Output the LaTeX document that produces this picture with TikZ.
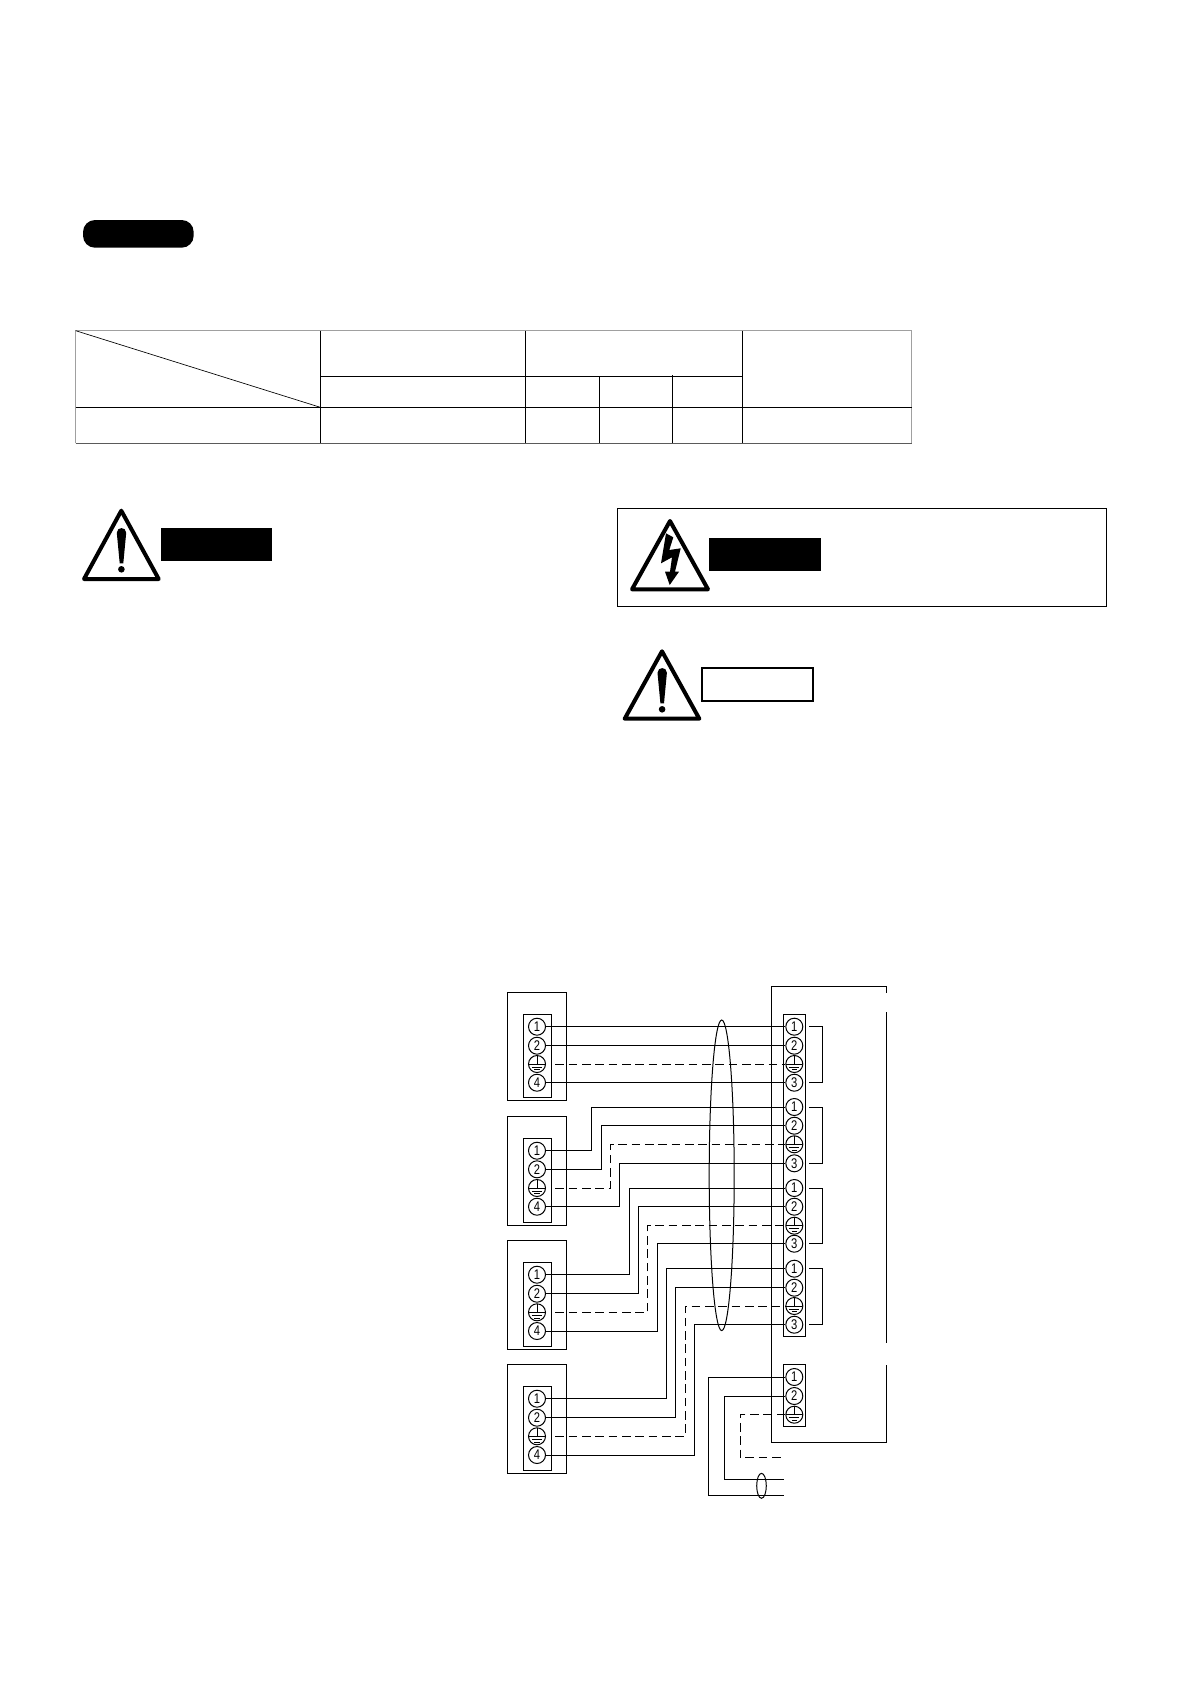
\documentclass[tikz,border=0pt]{standalone}
\usepackage{fontspec}
\setsansfont[FakeStretch=0.8]{Liberation Sans}

\tikzset{
  wire/.style={line width=0.75pt},
  earthwire/.style={line width=0.75pt,dash pattern=on 6.5pt off 3.5pt},
  term/.style={circle,draw,line width=0.75pt,minimum size=12.75pt,inner sep=0pt,font=\sffamily\fontsize{10.5}{10.5}\selectfont},
  earthterm/.style={term,path picture={
    \draw[line width=0.6pt] (path picture bounding box.north) -- (path picture bounding box.center);
    \draw[line width=0.6pt] ([xshift=-6.2pt]path picture bounding box.center) -- ([xshift=6.2pt]path picture bounding box.center);
    \draw[line width=0.6pt] ([xshift=-3.8pt,yshift=-2.2pt]path picture bounding box.center) -- ([xshift=3.8pt,yshift=-2.2pt]path picture bounding box.center);
    \draw[line width=0.6pt] ([xshift=-1.9pt,yshift=-4.2pt]path picture bounding box.center) -- ([xshift=1.9pt,yshift=-4.2pt]path picture bounding box.center);
  }},
  warnsign/.style={line width=3pt,line join=round},
  warnmark/.style={fill=black,draw=none},
  panelline/.style={line width=0.85pt},
  tablerule/.style={line width=0.75pt},
  tableedge/.style={line width=0.75pt,color={rgb, 255:red, 160; green, 160; blue, 160 }}
}

\begin{document}
\begin{tikzpicture}[x=0.75pt,y=0.75pt,yscale=-1,xscale=1]
\useasboundingbox (0,0) rectangle (1190,1682);

%Shape: Rounded Rectangle
\fill [rounded corners=9pt] (83,220) rectangle (193.7,247.7);

%Table outer edge
\draw [tableedge] (75.7,443.3) -- (75.7,330.7) -- (911.6,330.7) -- (911.6,443.3);
\draw [line width=0.75pt,color={rgb, 255:red, 90; green, 90; blue, 90 }] (75.7,443.3) -- (911.6,443.3);
%Table rules
\draw [tablerule] (75.7,407.3) -- (911.6,407.3);
\draw [tablerule] (320.3,376.3) -- (742.7,376.3);
\draw [tablerule] (320.3,330.7) -- (320.3,443.3);
\draw [tablerule] (525.3,330.7) -- (525.3,443.3);
\draw [tablerule] (599.3,376.3) -- (599.3,443.3);
\draw [tablerule] (672.7,375) -- (672.7,443.3);
\draw [tablerule] (742.7,330.7) -- (742.7,443.3);
%Table diagonal
\draw [line width=0.5pt] (75.7,330.7) -- (320.3,407.3);

%Shape: Triangle (left warning)
\draw [warnsign] (121.3,510.7) -- (158.7,579) -- (84,579) -- cycle;
\fill [warnmark] (116.8,532.8) .. controls (116.8,526.5) and (126.2,526.5) .. (126.2,532.8) -- (123.3,563.3) -- (119.7,563.3) -- cycle;
\fill [warnmark] (121.4,569.3) circle (3.3);
%Shape: Rectangle
\fill (161.3,528) rectangle (272,561);

%Shape: Rectangle (danger panel)
\draw [panelline] (617.3,508.3) rectangle (1106.7,606.7);
%Shape: Triangle (danger)
\draw [warnsign] (670,521) -- (708,589.3) -- (632,589.3) -- cycle;
\fill [warnmark] (666,533.3) -- (673.3,537.3) -- (669.3,550) -- (680.7,548.3) -- (675,571.7) -- (679,571.7) -- (669.7,585) -- (665,571.7) -- (670,571.7) -- (672,557.3) -- (661,563.3) -- cycle;
%Shape: Rectangle
\fill (709,538) rectangle (821,570.7);

%Shape: Triangle (caution)
\draw [warnsign] (662,651.3) -- (699.3,718.7) -- (624.7,718.7) -- cycle;
\fill [warnmark] (657.5,672.8) .. controls (657.5,666.5) and (666.9,666.5) .. (666.9,672.8) -- (664,703.3) -- (660.4,703.3) -- cycle;
\fill [warnmark] (662.1,709.3) circle (3.3);
%Shape: Rectangle
\draw [line width=1.5pt] (702.4,668.2) rectangle (812.6,700.6);

%Indoor unit boxes
\draw [wire] (507.3,992.7) rectangle (566.3,1100.3);
\draw [wire] (523.3,1014.3) rectangle (551.7,1097.7);
\draw [wire] (507.3,1116.3) rectangle (566.3,1225.3);
\draw [wire] (523.3,1138.3) rectangle (551.7,1222.3);
\draw [wire] (507.3,1240.7) rectangle (566.3,1349.3);
\draw [wire] (523.3,1262.3) rectangle (551.7,1346.3);
\draw [wire] (507.3,1364.3) rectangle (566.3,1473.3);
\draw [wire] (523.3,1386.3) rectangle (551.7,1470.3);

%Outdoor unit outline, broken in two places
\draw [wire] (886.7,992.7) -- (886.7,986.3) -- (771.7,986.3) -- (771.7,1442.3) -- (886.7,1442.3) -- (886.7,1365);
\draw [wire] (886.7,1012) -- (886.7,1342.7);
%Terminal strips
\draw [wire] (783.3,1014.3) rectangle (805.3,1336.3);
\draw [wire] (783.3,1364.3) rectangle (805.3,1426.7);

% Terminal Nodes, unit A
\node [term] (la1) at (537,1026.7) {1};
\node [term] (la2) at (537,1045.7) {2};
\node [earthterm] (lag) at (537,1064) {};
\node [term] (la4) at (537,1082.7) {4};
% Terminal Nodes, unit B
\node [term] (lb1) at (537,1150.7) {1};
\node [term] (lb2) at (537,1169.3) {2};
\node [earthterm] (lbg) at (537,1188) {};
\node [term] (lb4) at (537,1206.7) {4};
% Terminal Nodes, unit C
\node [term] (lc1) at (537,1274.7) {1};
\node [term] (lc2) at (537,1293.7) {2};
\node [earthterm] (lcg) at (537,1312.3) {};
\node [term] (lc4) at (537,1331) {4};
% Terminal Nodes, unit D
\node [term] (ld1) at (537,1398.7) {1};
\node [term] (ld2) at (537,1417.7) {2};
\node [earthterm] (ldg) at (537,1436.3) {};
\node [term] (ld4) at (537,1455) {4};

% Terminal Nodes, outdoor strip
\node [term] (ra1) at (794.3,1026.7) {1};
\node [term] (ra2) at (794.3,1045.7) {2};
\node [earthterm] (rag) at (794.3,1064) {};
\node [term] (ra3) at (794.3,1082.7) {3};
\node [term] (rb1) at (794.3,1107) {1};
\node [term] (rb2) at (794.3,1125.7) {2};
\node [earthterm] (rbg) at (794.3,1144.3) {};
\node [term] (rb3) at (794.3,1163.3) {3};
\node [term] (rc1) at (794.3,1188) {1};
\node [term] (rc2) at (794.3,1206.7) {2};
\node [earthterm] (rcg) at (794.3,1225.7) {};
\node [term] (rc3) at (794.3,1243.7) {3};
\node [term] (rd1) at (794.3,1268.7) {1};
\node [term] (rd2) at (794.3,1287.7) {2};
\node [earthterm] (rdg) at (794.3,1306) {};
\node [term] (rd3) at (794.3,1324.7) {3};
% Terminal Nodes, power strip
\node [term] (pw1) at (794.3,1377) {1};
\node [term] (pw2) at (794.3,1396) {2};
\node [earthterm] (pwg) at (794.3,1414.7) {};

%Wires, unit A
\draw [wire] (la1.east) -- (ra1.west);
\draw [wire] (la2.east) -- (ra2.west);
\draw [earthwire,shorten <=7pt] (lag.east) -- (rag.west);
\draw [wire] (la4.east) -- (ra3.west);
%Wires, unit B
\draw [wire] (lb1.east) -- ++(45.8,0) |- (rb1.west);
\draw [wire] (lb2.east) -- ++(55.2,0) |- (rb2.west);
\draw [earthwire,shorten <=7pt] (lbg.east) -- ++(64.5,0) |- (rbg.west);
\draw [wire] (lb4.east) -- ++(73.8,0) |- (rb3.west);
%Wires, unit C
\draw [wire] (lc1.east) -- ++(83.2,0) |- (rc1.west);
\draw [wire] (lc2.east) -- ++(92.5,0) |- (rc2.west);
\draw [earthwire,shorten <=7pt] (lcg.east) -- ++(101.8,0) |- (rcg.west);
\draw [wire] (lc4.east) -- ++(111.2,0) |- (rc3.west);
%Wires, unit D
\draw [wire] (ld1.east) -- ++(120.5,0) |- (rd1.west);
\draw [wire] (ld2.east) -- ++(129.8,0) |- (rd2.west);
\draw [earthwire,shorten <=7pt] (ldg.east) -- ++(139.2,0) |- (rdg.west);
\draw [wire] (ld4.east) -- ++(148.5,0) |- (rd3.west);

%Brackets
\draw [wire] ([xshift=4.4pt]ra1.east) -- ++(13,0) |- ([xshift=4.4pt]ra3.east);
\draw [wire] ([xshift=4.4pt]rb1.east) -- ++(13,0) |- ([xshift=4.4pt]rb3.east);
\draw [wire] ([xshift=4.4pt]rc1.east) -- ++(13,0) |- ([xshift=4.4pt]rc3.east);
\draw [wire] ([xshift=4.4pt]rd1.east) -- ++(13,0) |- ([xshift=4.4pt]rd3.east);

%Power supply, free ends
\coordinate (end1) at (784.3,1495);
\coordinate (end2) at (784.3,1479.3);
\coordinate (endg) at (784.3,1457.7);
\draw [wire] (pw1.west) -- ++(-76.5,0) |- (end1);
\draw [wire] (pw2.west) -- ++(-60.8,0) |- (end2);
\draw [earthwire] (pwg.west) -- ++(-45.1,0) |- (endg);

%Shape: Ellipse
\draw [wire] (721.7,1175.3) ellipse (12.5 and 155.3);
\draw [wire] (761.5,1485.8) ellipse (4.8 and 12.5);

\end{tikzpicture}
\end{document}
